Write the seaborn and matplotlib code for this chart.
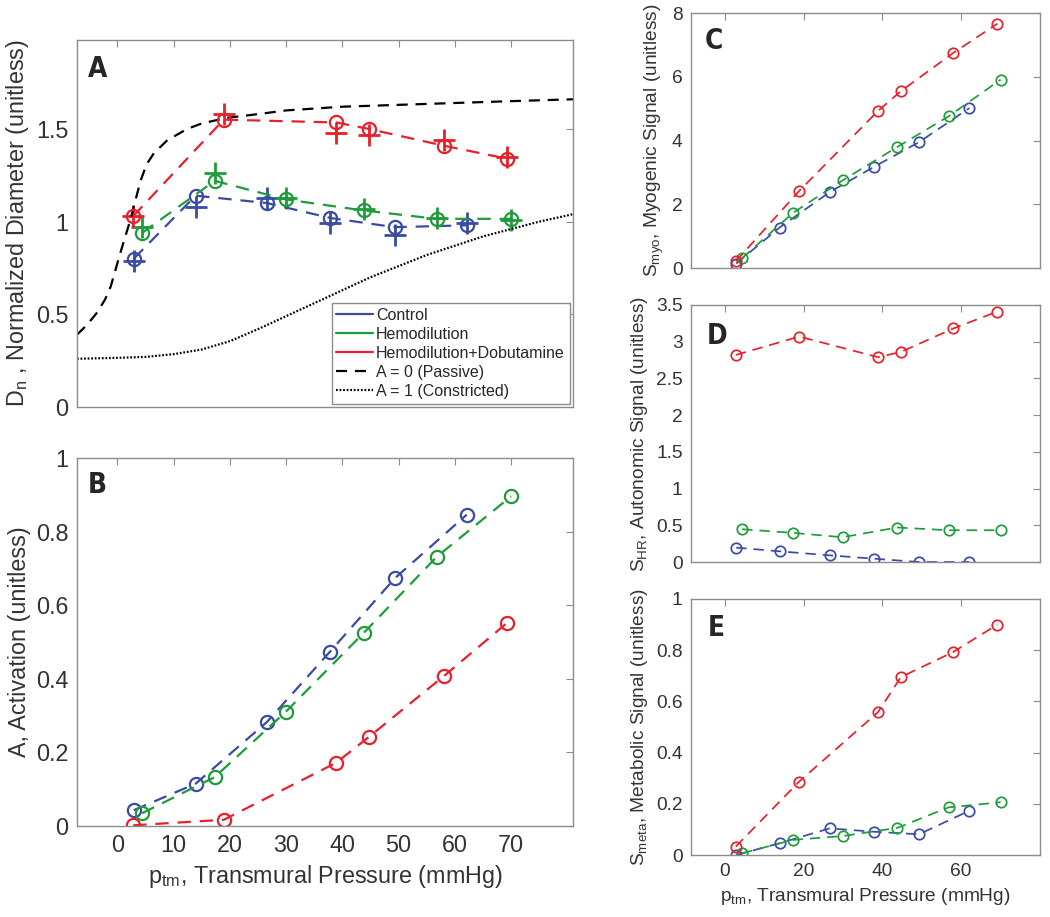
import seaborn as sns
import matplotlib.pyplot as plt
from matplotlib.lines import Line2D

# pressure points (mmHg) for each group
p_ctrl = [2.9, 13.9, 26.6, 37.8, 49.3, 62.1]
p_hemo = [4.4, 17.3, 29.9, 43.8, 56.8, 70.0]
p_dobu = [2.8, 18.9, 38.9, 44.7, 58.0, 69.2]

# panel A, model (circles) and measured (+)
dn_ctrl = [0.80, 1.14, 1.10, 1.02, 0.97, 0.98]
dn_hemo = [0.94, 1.22, 1.12, 1.06, 1.015, 1.015]
dn_dobu = [1.03, 1.55, 1.535, 1.50, 1.41, 1.34]
dn_ctrl_meas = [0.79, 1.08, 1.13, 0.99, 0.93, 0.99]
dn_hemo_meas = [0.97, 1.26, 1.13, 1.07, 1.02, 1.01]
dn_dobu_meas = [1.03, 1.58, 1.48, 1.47, 1.44, 1.35]

# reference curves A=0 and A=1
passive_p = [-7.2, -5.5, -3.6, -2.2, -1.2, 0.5, 2.3, 4.1, 5.2, 6.5, 8.9, 12.4, 15.0, 19.5,
             25, 30, 40, 50, 60, 70, 81]
passive_d = [0.39, 0.44, 0.51, 0.58, 0.65, 0.83, 1.01, 1.22, 1.31, 1.37, 1.44, 1.50, 1.53,
             1.56, 1.58, 1.60, 1.62, 1.63, 1.64, 1.65, 1.66]
constr_p = [-7.2, 0, 5, 10, 15, 20, 25, 30, 35, 40, 45, 50, 55, 60, 65, 70, 75, 81]
constr_d = [0.26, 0.265, 0.27, 0.285, 0.31, 0.355, 0.42, 0.49, 0.56, 0.63, 0.70, 0.76,
            0.82, 0.87, 0.92, 0.96, 1.00, 1.04]

# panel B activation
act_ctrl = [0.043, 0.115, 0.283, 0.474, 0.673, 0.846]
act_hemo = [0.035, 0.133, 0.31, 0.525, 0.732, 0.896]
act_dobu = [0.002, 0.017, 0.172, 0.242, 0.407, 0.551]

# panel C myogenic
myo_ctrl = [0.14, 1.27, 2.38, 3.17, 3.95, 5.02]
myo_hemo = [0.31, 1.73, 2.75, 3.80, 4.76, 5.91]
myo_dobu = [0.21, 2.42, 4.93, 5.55, 6.75, 7.67]

# panel D autonomic
hr_ctrl = [0.196, 0.146, 0.091, 0.046, 0.0, 0.0]
hr_hemo = [0.447, 0.397, 0.338, 0.47, 0.433, 0.433]
hr_dobu = [2.82, 3.07, 2.79, 2.86, 3.18, 3.41]

# panel E metabolic
meta_ctrl = [0.0, 0.046, 0.104, 0.091, 0.081, 0.173]
meta_hemo = [0.007, 0.059, 0.074, 0.106, 0.186, 0.206]
meta_dobu = [0.033, 0.287, 0.558, 0.695, 0.793, 0.90]

groups = ['Control', 'Hemodilution', 'Hemodilution+Dobutamine']
colors = {'Control': '#3a4ba3', 'Hemodilution': '#1f9c3a', 'Hemodilution+Dobutamine': '#e8202b'}

sns.set_style('white')
plt.rcParams['font.family'] = ['Liberation Sans', 'DejaVu Sans']
plt.rcParams['axes.edgecolor'] = '#8c8c8c'
plt.rcParams['axes.linewidth'] = 1.0

fig = plt.figure(figsize=(10.5, 9.17), dpi=100)
axA = fig.add_axes([0.0733, 0.5562, 0.4724, 0.4002])
axB = fig.add_axes([0.0733, 0.0992, 0.4724, 0.4013])
axC = fig.add_axes([0.658, 0.7077, 0.3324, 0.278])
axD = fig.add_axes([0.658, 0.3871, 0.3324, 0.2803])
axE = fig.add_axes([0.658, 0.0676, 0.3324, 0.2792])


def draw(ax, x, y, color, ms, lw):
    sns.lineplot(x=x, y=y, ax=ax, color=color, linestyle=(0, (6, 4)), linewidth=lw,
                 marker='o', markersize=ms, markerfacecolor='none',
                 markeredgecolor=color, markeredgewidth=lw)


# ---- A
sns.lineplot(x=passive_p, y=passive_d, ax=axA, color='black', linewidth=1.6,
             linestyle=(0, (5, 3.5)))
sns.lineplot(x=constr_p, y=constr_d, ax=axA, color='black', linewidth=1.6,
             linestyle=(0, (0.8, 0.8)))
for g, x, y, ym in zip(groups, [p_ctrl, p_hemo, p_dobu], [dn_ctrl, dn_hemo, dn_dobu],
                       [dn_ctrl_meas, dn_hemo_meas, dn_dobu_meas]):
    draw(axA, x, y, colors[g], 9.5, 1.6)
    sns.scatterplot(x=x, y=ym, ax=axA, marker='+', color=colors[g], s=260, linewidth=2)

# ---- B
for g, x, y in zip(groups, [p_ctrl, p_hemo, p_dobu], [act_ctrl, act_hemo, act_dobu]):
    draw(axB, x, y, colors[g], 9.5, 1.6)

# ---- C, D, E
for ax, ys in [(axC, [myo_ctrl, myo_hemo, myo_dobu]),
               (axD, [hr_ctrl, hr_hemo, hr_dobu]),
               (axE, [meta_ctrl, meta_hemo, meta_dobu])]:
    for g, x, y in zip(groups, [p_ctrl, p_hemo, p_dobu], ys):
        draw(ax, x, y, colors[g], 7.5, 1.25)

sub = r'$_\mathregular{%s}$'
xlab = 'p' + sub % 'tm' + ', Transmural Pressure (mmHg)'

for ax in [axA, axB]:
    ax.set_xlim(-7.2, 81)
    ax.set_xticks(range(0, 71, 10))
for ax in [axC, axD, axE]:
    ax.set_xlim(-8.6, 80)
    ax.set_xticks([0, 20, 40, 60])

axA.set_ylim(0, 1.98)
axA.set_yticks([0, 0.5, 1, 1.5])
axA.set_yticklabels(['0', '0.5', '1', '1.5'])
axA.set_xticklabels([])
axA.set_ylabel('D' + sub % 'n' + ' , Normalized Diameter (unitless)')

axB.set_ylim(0, 1)
axB.set_yticks([0, 0.2, 0.4, 0.6, 0.8, 1])
axB.set_yticklabels(['0', '0.2', '0.4', '0.6', '0.8', '1'])
axB.set_ylabel('A, Activation (unitless)')
axB.set_xlabel(xlab)

axC.set_ylim(0, 8)
axC.set_yticks([0, 2, 4, 6, 8])
axC.set_xticklabels([])
axC.set_ylabel('S' + sub % 'myo' + ', Myogenic Signal (unitless)')

axD.set_ylim(0, 3.5)
axD.set_yticks([0, 0.5, 1, 1.5, 2, 2.5, 3, 3.5])
axD.set_yticklabels(['0', '0.5', '1', '1.5', '2', '2.5', '3', '3.5'])
axD.set_xticklabels([])
axD.set_ylabel('S' + sub % 'HR' + ', Autonomic Signal (unitless)')

axE.set_ylim(0, 1)
axE.set_yticks([0, 0.2, 0.4, 0.6, 0.8, 1])
axE.set_yticklabels(['0', '0.2', '0.4', '0.6', '0.8', '1'])
axE.set_ylabel('S' + sub % 'meta' + ', Metabolic Signal (unitless)')
axE.set_xlabel(xlab)

letters = {axA: ('A', 0.022, 0.96), axB: ('B', 0.022, 0.965), axC: ('C', 0.04, 0.945),
           axD: ('D', 0.046, 0.935), axE: ('E', 0.049, 0.94)}
for ax, (t, lx, ly) in letters.items():
    fs = 16.8 if ax in (axA, axB) else 13.8
    ax.tick_params(direction='in', top=True, right=True, length=5, width=0.8,
                   color='#8c8c8c', labelcolor='#333333', labelsize=fs, pad=6)
    ax.xaxis.label.set_color('#333333')
    ax.yaxis.label.set_color('#333333')
    ax.xaxis.label.set_size(fs)
    ax.yaxis.label.set_size(fs)
    ax.text(lx, ly, t, transform=ax.transAxes, ha='left', va='top', fontsize=20,
            fontweight='bold', fontstretch='condensed', family=['DejaVu Sans'])
    for s in ax.spines.values():
        s.set_visible(True)

handles = [Line2D([], [], color=colors[g], lw=1.6) for g in groups]
handles.append(Line2D([], [], color='black', lw=1.6, ls=(0, (5, 3.5))))
handles.append(Line2D([], [], color='black', lw=1.6, ls=(0, (0.8, 0.8))))
leg = axA.legend(handles, groups + ['A = 0 (Passive)', 'A = 1 (Constricted)'],
                 loc='lower right', fontsize=11.5, frameon=True, fancybox=False,
                 edgecolor='#8c8c8c', framealpha=1, handlelength=2.3, handletextpad=0.2,
                 labelspacing=0.25, borderaxespad=0.2, borderpad=0.3)
leg.get_frame().set_linewidth(1.0)

fig.savefig('out.png', dpi=100)
